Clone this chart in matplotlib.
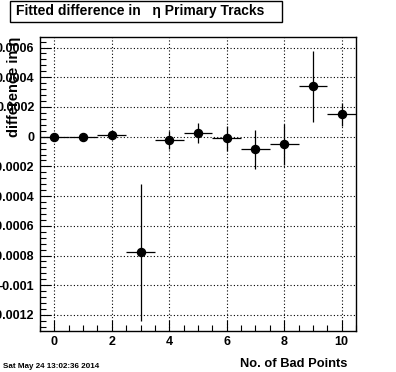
import numpy as np
import matplotlib
matplotlib.use('Agg')
import matplotlib.pyplot as plt
from matplotlib.patches import Rectangle
from matplotlib.ticker import MultipleLocator

plt.rcParams['font.family'] = ['Liberation Sans', 'DejaVu Sans']
plt.rcParams['font.weight'] = 'bold'

# bad points bins and fitted difference in eta
bad_points = [0, 1, 2, 3, 4, 5, 6, 7, 8, 9, 10]
diff = [-0.000005, -0.000005, 0.000011, -0.000778, -0.000022, 0.000023,
        -0.000011, -0.000085, -0.000051, 0.000339, 0.000151]
diff_err = [0.000005, 0.000005, 0.000005, 0.00046, 0.000058, 0.000067,
            0.000086, 0.00013, 0.000137, 0.000238, 0.000076]
bin_half = [0.5] * 11

W, H = 396, 372
fig = plt.figure(figsize=(W / 100, H / 100), dpi=100)
ax = fig.add_axes([40 / W, 1 - 331 / H, (356 - 40) / W, (331 - 37) / H])

ax.errorbar(bad_points, diff, yerr=diff_err, xerr=bin_half, fmt='o',
            color='black', ms=5.8, elinewidth=0.9, capsize=0)

ax.set_xlim(-0.5, 10.5)
ax.set_ylim(-0.001308, 0.000671)

ax.xaxis.set_major_locator(MultipleLocator(2))
ax.xaxis.set_minor_locator(MultipleLocator(0.5))
ax.yaxis.set_major_locator(MultipleLocator(0.0002))
ax.yaxis.set_minor_locator(MultipleLocator(0.00004))

ax.grid(True, which='major', linestyle=(0, (1, 2)), color='black', linewidth=0.8)
ax.tick_params(which='both', direction='in', top=False, right=False,
               labelsize=9)
ax.tick_params(which='major', length=8, width=0.8)
ax.tick_params(which='minor', length=4, width=0.8)
ax.tick_params(axis='y', pad=4)
for s in ax.spines.values():
    s.set_linewidth(1.0)

ylabels = []
for v in ax.get_yticks():
    if abs(v) < 1e-12:
        ylabels.append('0')
    else:
        ylabels.append(('%g' % round(v, 6)))
ax.set_yticks(ax.get_yticks())
ax.set_yticklabels(ylabels)
ax.set_ylim(-0.001308, 0.000671)
for lab in ax.get_xticklabels() + ax.get_yticklabels():
    lab.set_fontweight('bold')

fig.text(347 / W, 1 - 364 / H, 'No. of Bad Points', ha='right', va='center',
         fontsize=9.3, fontweight='bold')
fig.text(14 / W, 1 - 37 / H, 'difference in \u03b7', rotation=90, ha='center',
         va='top', fontsize=10.5, fontweight='bold')
fig.text(3 / W, 1 - 366 / H, 'Sat May 24 13:02:36 2014', ha='left',
         va='center', fontsize=5.8, fontweight='bold')

# title box
fig.patches.append(Rectangle((10 / W, 1 - 22 / H), (282 - 10) / W, 21 / H,
                             transform=fig.transFigure, facecolor='white',
                             edgecolor='black', linewidth=1.0))
fig.text(140 / W, 1 - 11.5 / H, 'Fitted difference in   \u03b7 Primary Tracks',
         ha='center', va='center', fontsize=10, fontweight='bold')

fig.savefig('out.png', dpi=100)
